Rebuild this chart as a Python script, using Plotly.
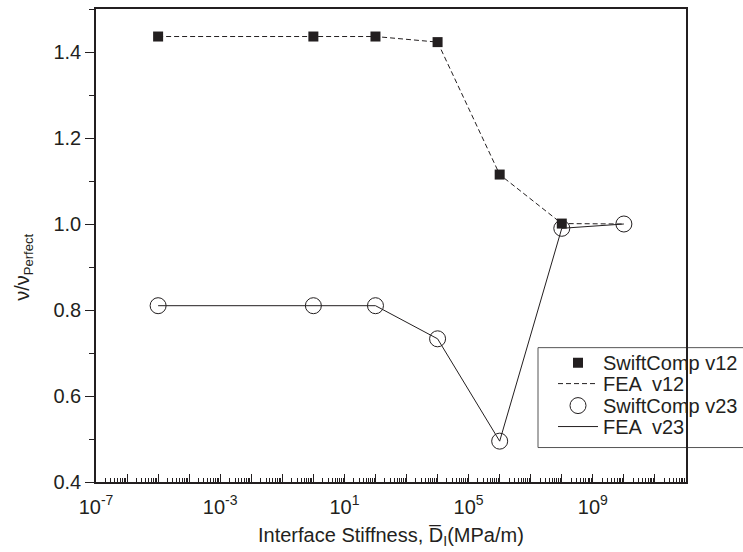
import plotly.graph_objects as go

# Data
stiffness_sc = [1e-5, 1e0, 1e2, 1e4, 1e6, 1e8]
swift_v12 = [1.436, 1.436, 1.436, 1.423, 1.115, 1.001]
stiffness_fea = [1e-5, 1e0, 1e2, 1e4, 1e6, 1e8, 1e10]
fea_v12 = [1.436, 1.436, 1.436, 1.423, 1.115, 1.001, 1.0]
stiffness_v23 = [1e-5, 1e0, 1e2, 1e4, 1e6, 1e8, 1e10]
swift_v23 = [0.810, 0.810, 0.810, 0.733, 0.495, 0.990, 1.0]
fea_v23 = [0.810, 0.810, 0.810, 0.733, 0.495, 0.990, 1.0]

x_major_exp = list(range(-7, 13))
x_label_exp = [-7, -3, 1, 5, 9]
y_ticks = [0.4, 0.6, 0.8, 1.0, 1.2, 1.4]

INK = "#231f20"
FONT = "Liberation Sans, Arial, sans-serif"
FS = 20

L, R, T, B = 96, 57, 9, 69.5
W, H = 743, 552
pw, ph = W - L - R, H - T - B


def px_x(x):
    return (x - L) / pw


def px_y(y):
    return (H - B - y) / ph


fig = go.Figure()
fig.add_trace(go.Scatter(x=stiffness_sc, y=swift_v12, mode="markers", name="SwiftComp v12",
                         legend="legend",
                         marker=dict(symbol="square", size=10, color=INK, line=dict(width=0))))
fig.add_trace(go.Scatter(x=stiffness_fea, y=fea_v12, mode="lines", name="FEA  v12",
                         legend="legend2",
                         line=dict(color=INK, width=1, dash="5px,3px")))
fig.add_trace(go.Scatter(x=stiffness_v23, y=swift_v23, mode="markers", name="SwiftComp v23",
                         legend="legend3",
                         marker=dict(symbol="circle-open", size=16, color=INK, line=dict(width=1, color=INK))))
fig.add_trace(go.Scatter(x=stiffness_v23, y=fea_v23, mode="lines", name="FEA  v23",
                         legend="legend4",
                         line=dict(color=INK, width=1)))

tickvals = [10.0 ** e for e in x_major_exp]
ticktext = [("10<sup>%d</sup>" % e) if e in x_label_exp else "" for e in x_major_exp]
minor_vals = [m * 10.0 ** e for e in x_major_exp[:-1] for m in range(2, 10)]

fig.update_xaxes(type="log", range=[-7, 12], tickmode="array", tickvals=tickvals, ticktext=ticktext,
                 ticks="inside", ticklen=8, tickwidth=1.2, tickcolor=INK, ticklabelstandoff=6,
                 minor=dict(tickmode="array", tickvals=minor_vals, ticks="inside", ticklen=4,
                            tickwidth=1, tickcolor=INK),
                 showline=True, linecolor=INK, linewidth=1.5, mirror=True,
                 showgrid=False, zeroline=False,
                 tickfont=dict(family=FONT, size=FS, color=INK))
fig.update_yaxes(range=[0.4, 1.5], tickmode="array", tickvals=y_ticks,
                 ticktext=["%.1f" % v for v in y_ticks],
                 ticks="outside", ticklen=9, tickwidth=1.2, tickcolor=INK,
                 minor=dict(dtick=0.1, ticks="outside", ticklen=5, tickwidth=1, tickcolor=INK),
                 showline=True, linecolor=INK, linewidth=1.5, mirror=True,
                 showgrid=False, zeroline=False,
                 tickfont=dict(family=FONT, size=FS, color=INK))

# legend frame at the reference's extent
fig.add_shape(type="rect", xref="paper", yref="paper",
              x0=px_x(538), x1=px_x(760), y0=px_y(448), y1=px_y(348),
              line=dict(color="#555555", width=1), fillcolor="white", layer="below")

fig.add_annotation(text="Interface Stiffness, D\u0305<sub>I</sub>(MPa/m)", xref="paper", yref="paper",
                   x=0.5, y=px_y(537), xanchor="center", yanchor="middle",
                   showarrow=False, font=dict(family=FONT, size=FS, color=INK))
fig.add_annotation(text="\u03bd/\u03bd<sub><span style='font-size:13px'>Perfect</span></sub>",
                   xref="paper", yref="paper",
                   x=px_x(24), y=px_y(268), xanchor="center", yanchor="middle",
                   textangle=-90, showarrow=False, font=dict(family=FONT, size=FS, color=INK))

legend_rows = [363, 384, 406, 427]


def leg(yrow):
    return dict(x=px_x(553), y=px_y(yrow), xanchor="left", yanchor="middle",
                bgcolor="rgba(0,0,0,0)", borderwidth=0, itemwidth=40,
                font=dict(family=FONT, size=FS, color=INK))


fig.update_layout(
    width=W, height=H,
    margin=dict(l=L, r=R, t=T, b=B, autoexpand=False),
    paper_bgcolor="white", plot_bgcolor="rgba(0,0,0,0)",
    showlegend=True,
    legend=leg(legend_rows[0]),
    legend2=leg(legend_rows[1]),
    legend3=leg(legend_rows[2]),
    legend4=leg(legend_rows[3]),
    font=dict(family=FONT, color=INK),
)

fig.write_html("out.html")
